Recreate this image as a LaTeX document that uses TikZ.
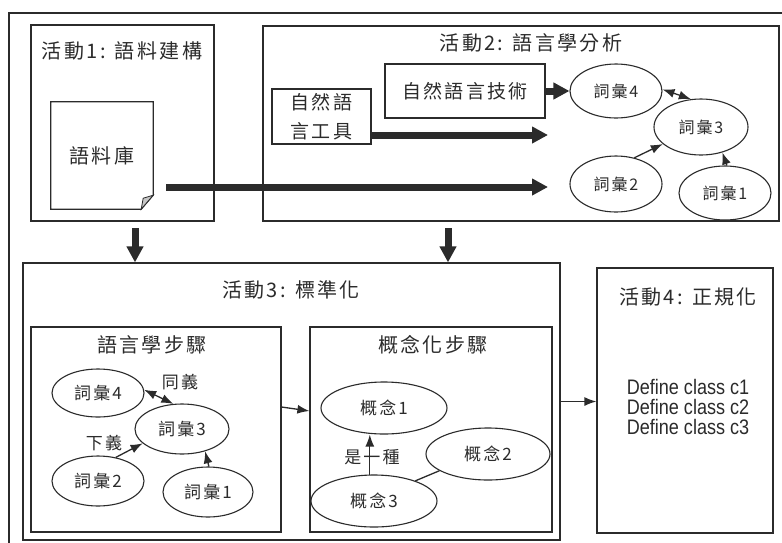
\documentclass[tikz,border=0pt]{standalone}
\usepackage{fontspec}
\setmainfont{Liberation Sans}
\newfontfamily\narrowfont[FakeStretch=0.86]{Liberation Sans}
\newfontfamily\cjk[LetterSpace=12]{Noto Sans CJK TC}
\usetikzlibrary{arrows.meta,shapes.geometric,calc}
\definecolor{ink}{HTML}{2B2B2B}
\begin{document}
\begin{tikzpicture}[x=1pt,y=-1pt,
  box/.style={draw=ink,line width=1.2pt,rectangle,inner sep=0pt},
  ell/.style={draw=ink,line width=1.1pt,ellipse,inner sep=0pt,text=ink},
  ttl/.style={text=ink,font=\cjk\fontsize{20}{24}\selectfont,inner sep=0pt},
  labA/.style={font=\cjk\fontsize{16}{19}\selectfont},
  labB/.style={font=\cjk\fontsize{17}{20}\selectfont},
  bigarrow/.style={draw=ink,line width=7pt,-{Triangle[width=16pt,length=16pt]}},
  tarrow/.style={draw=ink,line width=1.3pt,-{Latex[length=12pt,width=9pt]}},
  darrow/.style={draw=ink,line width=1.3pt,{Latex[length=12pt,width=9pt]}-{Latex[length=12pt,width=9pt]}},
  tline/.style={draw=ink,line width=1.3pt}
]
\useasboundingbox (0,0) rectangle (782,542);
\fill[white] (0,0) rectangle (782,542);
% outer frame (cut by the page)
\draw[ink,line width=1.2pt] (9,545) -- (9,13) -- (785,13);

% Activity 1
\node[box,minimum width=183pt,minimum height=196pt] (act1) at (122.5,123) {};
\node[ttl] (t1) at (122,51) {活動1: 語料建構};
\node[inner sep=0pt,minimum width=102pt,minimum height=107pt,text=ink,font=\cjk\fontsize{20}{24}\selectfont] (doc) at (102,155.5) {語料庫};
\draw[ink,line width=1.2pt] (doc.north west) -- (doc.north east) -- ([yshift=14pt]doc.south east)
  -- ([xshift=-12pt]doc.south east) -- (doc.south west) -- cycle;
\filldraw[fill=gray!45,draw=ink,line width=0.8pt] ([yshift=14pt]doc.south east) -- ([xshift=-12pt]doc.south east)
  -- ([xshift=-10pt,yshift=11pt]doc.south east) -- cycle;

% Activity 2
\node[box,minimum width=516pt,minimum height=195pt] (act2) at (521,123.5) {};
\node[ttl] (t2) at (531,43) {活動2: 語言學分析};
\node[box,minimum width=160pt,minimum height=54pt,font=\cjk\fontsize{19}{23}\selectfont,text=ink] (nlt) at (465,91) {自然語言技術};
\node[box,minimum width=99pt,minimum height=55pt,align=center,font=\cjk\fontsize{19}{29}\selectfont,text=ink] (tool) at (321.5,116.5) {自然語\\言工具};
\node[ell,labA,minimum width=92pt,minimum height=54pt] (a2e4) at (616,91) {詞彙4};
\node[ell,labA,minimum width=94pt,minimum height=56pt] (a2e3) at (701,127) {詞彙3};
\node[ell,labA,minimum width=92pt,minimum height=56pt] (a2e2) at (616,184) {詞彙2};
\node[ell,labA,minimum width=92pt,minimum height=54pt] (a2e1) at (725,193) {詞彙1};
\draw[darrow] (a2e4.2) -- (a2e3.110);
\draw[tarrow] (a2e2.55) -- (a2e3.204);
\draw[tarrow] (a2e1.86) -- (a2e3.310);

% thick arrows
\coordinate (end1) at (548,187);
\coordinate (end2) at (548,135);
\draw[bigarrow] ($(doc.east)+(13,31.5)$) -- (end1);
\draw[bigarrow] ([yshift=-18.5pt]tool.east) -- (end2);
\draw[bigarrow] (nlt.east) -- (a2e4.west);

% Activity 3
\node[box,minimum width=537pt,minimum height=277pt] (act3) at (291.5,401.5) {};
\node[ttl] (t3) at (291,290) {活動3: 標準化};
\coordinate (d1) at (135,228);
\coordinate (d2) at (448,228);
\draw[bigarrow] (d1) -- (d1 |- act3.north);
\draw[bigarrow] (d2) -- (d2 |- act3.north);

\node[box,minimum width=250pt,minimum height=205pt] (ling) at (156,429.5) {};
\node[ttl] (tl) at (152,345) {語言學步驟};
\node[ell,labB,minimum width=92pt,minimum height=48pt] (a3e4) at (98,393) {詞彙4};
\node[ell,labB,minimum width=94pt,minimum height=50pt] (a3e3) at (182,429) {詞彙3};
\node[ell,labB,minimum width=92pt,minimum height=50pt] (a3e2) at (98,481) {詞彙2};
\node[ell,labB,minimum width=90pt,minimum height=50pt] (a3e1) at (208,492) {詞彙1};
\node[labB,text=ink,inner sep=0pt] (syn) at (180,382) {同義};
\node[labB,text=ink,inner sep=0pt] (hyp) at (104,443) {下義};
\draw[darrow] (a3e4.4) -- (a3e3.109);
\draw[tarrow] (a3e2.53) -- (a3e3.200);
\draw[tarrow] (a3e1.88) -- (a3e3.316);

\node[box,minimum width=242pt,minimum height=205pt] (conc) at (431,429.5) {};
\node[ttl] (tc) at (433,345) {概念化步驟};
\node[ell,labB,minimum width=126pt,minimum height=52pt] (c1) at (384,408) {概念1};
\node[ell,labB,minimum width=124pt,minimum height=52pt] (c2) at (488,454) {概念2};
\node[ell,labB,minimum width=126pt,minimum height=52pt] (c3) at (374,501) {概念3};
\node[labB,text=ink,inner sep=0pt] (isa) at (372,457) {是一種};
\draw[tarrow] (c3.99) -- (c3.99 |- c1.south);
\draw[tline] (c3.26) -- (c2.199);

\draw[tarrow] ([yshift=22.5pt]ling.east) -- ([yshift=18.5pt]conc.west);

% Activity 4
\node[box,minimum width=176pt,minimum height=265pt] (act4) at (685,400.5) {};
\node[ttl] (t4) at (688,297) {活動4: 正規化};
\node[text=ink,align=center,inner sep=0pt,font=\narrowfont\fontsize{21}{20}\selectfont] (defs) at (688,407) {Define class c1\\Define class c2\\Define class c3};
\draw[tarrow] (act3.east) -- (act4.west |- act3.east);
\end{tikzpicture}
\end{document}
